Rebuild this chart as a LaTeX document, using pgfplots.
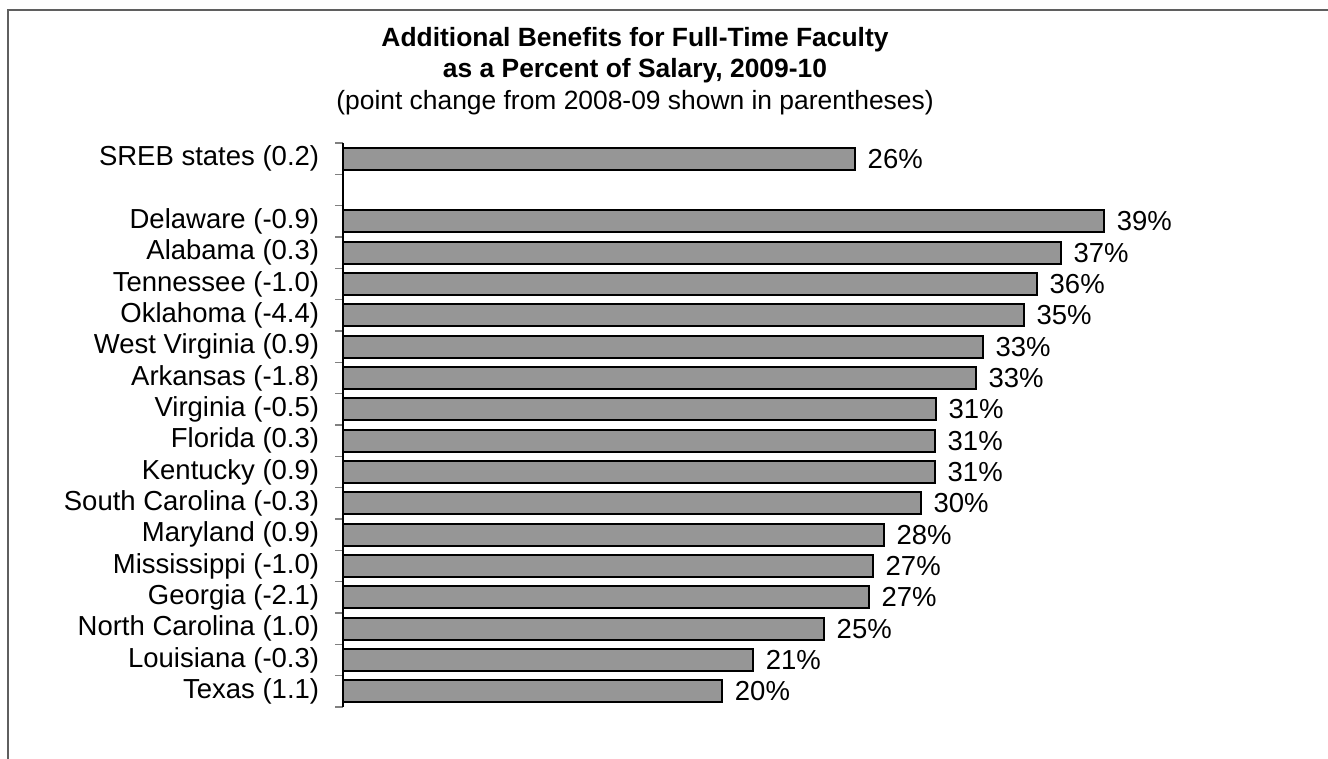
\documentclass[border=0pt]{standalone}
\usepackage{pgfplots}
\pgfplotsset{compat=1.18}
\usepackage{pgfplotstable}
\usepackage{fontspec}
\setmainfont{Liberation Sans}

\definecolor{barg}{RGB}{150,150,150}
\definecolor{frameg}{RGB}{95,95,95}

% y = slot from the bottom, val = benefits in %, lab = printed label
\pgfplotstableread{
y  val   lab
17 26.26 26
15 39.03 39
14 36.82 37
13 35.59 36
12 34.92 35
11 32.82 33
10 32.46 33
9  30.41 31
8  30.36 31
7  30.36 31
6  29.64 30
5  27.74 28
4  27.18 27
3  26.97 27
2  24.67 25
1  21.03 21
0  19.45 20
}\benefits

\begin{document}
\begin{tikzpicture}
% picture is 1328 x 759 px at 0.5pt per px
\useasboundingbox (0,0) rectangle (664pt,379.5pt);
\draw[frameg, line width=0.8pt] (4pt,0) -- (4pt,374.5pt) -- (664pt,374.5pt);

\tikzset{ttl/.style={anchor=base, inner sep=0pt, font=\fontsize{13.2}{15}\selectfont}}
\node[ttl] at (317.5pt,356pt) {\textbf{Additional Benefits for Full-Time Faculty}};
\node[ttl] at (317.5pt,340.5pt) {\textbf{as a Percent of Salary, 2009-10}};
\node[ttl] at (317.5pt,324.5pt) {(point change from 2008-09 shown in parentheses)};

\begin{axis}[
    at={(171.5pt,26pt)}, anchor=south west,
    scale only axis,
    width=448.5pt, height=282pt,
    xbar, bar width=11pt,
    xmin=0, xmax=46,
    ymin=-0.5, ymax=17.5,
    axis x line=none,
    axis y line=left,
    axis line style={-, black, line width=0.6pt},
    ytick={0,...,15,17},
    yticklabels={Texas (1.1),Louisiana (-0.3),North Carolina (1.0),Georgia (-2.1),
      Mississippi (-1.0),Maryland (0.9),South Carolina (-0.3),Kentucky (0.9),
      Florida (0.3),Virginia (-0.5),Arkansas (-1.8),West Virginia (0.9),
      Oklahoma (-4.4),Tennessee (-1.0),Alabama (0.3),Delaware (-0.9),SREB states (0.2)},
    major tick length=0pt,
    minor ytick={-0.5,0.5,...,17.5},
    minor tick length=4pt,
    tick align=outside,
    minor tick style={gray, line width=0.6pt},
    yticklabel style={font=\fontsize{13.75}{16}\selectfont, xshift=-8.4pt},
    point meta=explicit symbolic,
    nodes near coords={\pgfplotspointmeta\%},
    every node near coord/.append style={font=\fontsize{13.75}{16}\selectfont,
      black, anchor=west, xshift=2.5pt},
]
\addplot[fill=barg, draw=black, line width=1pt] table[x=val, y=y, meta=lab] {\benefits};
\end{axis}
\end{tikzpicture}
\end{document}
